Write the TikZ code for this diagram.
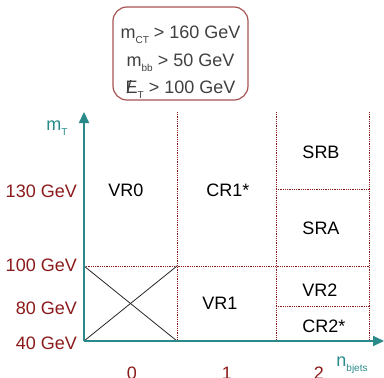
\documentclass[tikz,border=0pt]{standalone}
\usepackage{fontspec}
\setmainfont{Liberation Sans}
\usetikzlibrary{arrows.meta,positioning,calc}
\definecolor{axisteal}{HTML}{2A8A8A}
\definecolor{cutred}{HTML}{8B1A1A}
\definecolor{cuttext}{HTML}{404040}
\newcommand{\lowsub}[1]{\raisebox{-0.55ex}{\fontsize{10}{10}\selectfont #1}}
\newcommand{\metsym}{\makebox[0pt][l]{\hspace{1pt}/}E}
\tikzset{
  region/.style ={font=\fontsize{18}{20}\selectfont,text=black,inner sep=0pt},
  ylab/.style   ={anchor=east,font=\fontsize{18}{20}\selectfont,text=cutred,inner sep=0pt},
  xlab/.style   ={font=\fontsize{18}{20}\selectfont,text=cutred,inner sep=0pt},
  axlab/.style  ={font=\fontsize{18}{20}\selectfont,text=axisteal,inner sep=0pt},
  axis/.style   ={axisteal,line width=2.2pt,-{Triangle[length=11pt,width=10pt]}},
  cut/.style    ={cutred,densely dotted,line width=0.8pt},
  cross/.style  ={black!85,line width=0.8pt},
  cutbox/.style ={draw=cutred!75,rounded corners=14pt,line width=1.2pt,
                  minimum width=135pt,minimum height=93pt},
  cuttxt/.style ={align=center,text=cuttext,inner sep=0pt,
                  font=\fontsize{18}{27.5}\selectfont},
}
\begin{document}
\begin{tikzpicture}[x=1pt,y=-1pt]
  \useasboundingbox (0,0) rectangle (384,378);
  % grid corners
  \coordinate (o) at (84,341);
  \coordinate (ytop) at (84,112);
  \coordinate (xend) at (384,341);
  \coordinate (a100) at (84,266);   \coordinate (b100) at (177,266);
  \coordinate (c100) at (276,266);  \coordinate (d100) at (369,266);
  \coordinate (b40) at (177,341);
  \coordinate (csr) at (276,189);   \coordinate (dsr) at (369,189);
  \coordinate (ccr) at (276,306);   \coordinate (dcr) at (369,306);
  \foreach \n/\x in {b/177,c/276,d/369}{
    \coordinate (\n top) at (\x,112); \coordinate (\n bot) at (\x,341);
    \draw[cut](\n top)--(\n bot);}
  \draw[cut](a100)--(d100);
  \draw[cut](csr)--(dsr);
  \draw[cut](ccr)--(dcr);
  \draw[cross](a100)--(b40); \draw[cross](o)--(b100);
  \draw[axis](o)--(ytop);
  \draw[axis](o)--(xend);
  % regions
  \node[region](vr0) at (126,190){VR0};
  \node[region](cr1) at (228,190){CR1*};
  \node[region](srb) at (321,152){SRB};
  \node[region](sra) at (321,228){SRA};
  \node[region](vr1) at (220,303){VR1};
  \node[region](vr2) at (320,290){VR2};
  \node[region](cr2) at (324,326){CR2*};
  % axis labels
  \node[ylab](l130) at (77,191){130 GeV};
  \node[ylab](l100) at (77,265){100 GeV};
  \node[ylab](l80) at (77,308){80 GeV};
  \node[ylab](l40) at (77,343){40 GeV};
  \foreach \k/\x in {0/132,1/227,2/319}{\node[xlab](n\k) at (\x,373){\k};}
  \node[axlab](mt) at (57,128){m\lowsub{T}};
  \node[axlab](nb) at (352,365){n\lowsub{bjets}};
  % cuts
  \node[cutbox](cuts) at (180.5,53.5){};
  \node[cuttxt](cutlines) at ($(cuts.center)+(0,9)$){m\lowsub{CT} > 160 GeV\\m\lowsub{bb} > 50 GeV\\\metsym\lowsub{T} > 100 GeV};
\end{tikzpicture}
\end{document}
